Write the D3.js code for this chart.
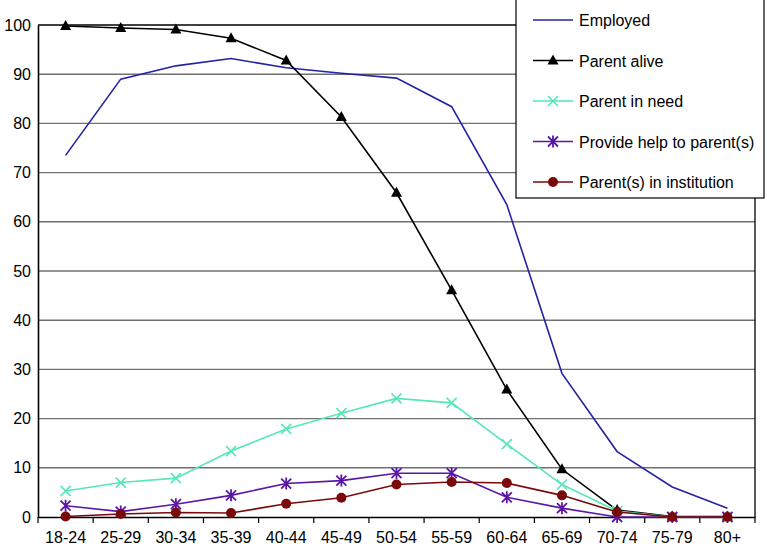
<!DOCTYPE html>
<html><head><meta charset="utf-8">
<script src="https://cdn.jsdelivr.net/npm/d3@7"></script>
<style>body{margin:0;background:#fff}svg{display:block}text{font-family:"Liberation Sans",Arial,sans-serif}</style>
</head><body>
<svg id="c" width="767" height="549"></svg>
<script>
const categories = ["18-24","25-29","30-34","35-39","40-44","45-49","50-54","55-59","60-64","65-69","70-74","75-79","80+"];
const employed = [73.5,89.0,91.7,93.2,91.3,90.2,89.2,83.4,63.5,29.2,13.3,6.1,1.8];
const parentAlive = [99.8,99.4,99.1,97.3,92.8,81.3,65.9,46.1,25.9,9.7,1.4,0.1,0.1];
const parentInNeed = [5.3,7.0,7.9,13.4,17.9,21.1,24.1,23.2,14.8,6.6,1.2,0,0];
const provideHelp = [2.3,1.1,2.6,4.4,6.8,7.4,8.9,8.9,4.0,1.8,0,0,0];
const inInstitution = [0.1,0.6,0.9,0.8,2.7,3.9,6.6,7.1,6.9,4.4,1.0,0,0];
const yTicks = [0,10,20,30,40,50,60,70,80,90,100];

const series = [
  {name:"Employed", values:employed, color:"#2323a3", marker:"none"},
  {name:"Parent alive", values:parentAlive, color:"#000000", marker:"triangle"},
  {name:"Parent in need", values:parentInNeed, color:"#55e8b4", marker:"x"},
  {name:"Provide help to parent(s)", values:provideHelp, color:"#5b16a6", marker:"star"},
  {name:"Parent(s) in institution", values:inInstitution, color:"#7a0a0a", marker:"circle"}
];

const FS = 16;
const svg = d3.select("#c");
const x = d3.scaleBand().domain(categories).range([38,755]).padding(0);
const y = d3.scaleLinear().domain([0,100]).range([517,25]);
const cx = d => x(d) + x.bandwidth()/2;

// gridlines
svg.append("g").selectAll("line").data(yTicks.filter(t=>t>0)).join("line")
  .attr("x1",38).attr("x2",755).attr("y1",d=>y(d)).attr("y2",d=>y(d))
  .attr("stroke",d=>d===100?"#000":"#707070").attr("stroke-width",1.4);
// right border
svg.append("line").attr("x1",755).attr("x2",755).attr("y1",25).attr("y2",517).attr("stroke","#000").attr("stroke-width",1.3);

// y axis
const ya = svg.append("g").attr("transform","translate(38,0)")
  .call(d3.axisLeft(y).tickValues(yTicks).tickSize(0).tickPadding(7));
ya.select(".domain").attr("stroke","#000").attr("stroke-width",1.6);
ya.selectAll("text").attr("font-size",FS).attr("fill","#000").attr("font-family","'Liberation Sans',Arial,sans-serif");

// x axis
const xa = svg.append("g").attr("transform","translate(0,517)")
  .call(d3.axisBottom(x).tickSize(0).tickPadding(15));
xa.select(".domain").attr("stroke","#000").attr("stroke-width",1.6);
xa.selectAll("text").attr("font-size",FS).attr("fill","#000").attr("font-family","'Liberation Sans',Arial,sans-serif");
svg.append("g").selectAll("line").data(categories.concat(["__end"])).join("line")
  .attr("x1",(d,i)=>38+i*x.bandwidth()).attr("x2",(d,i)=>38+i*x.bandwidth())
  .attr("y1",517).attr("y2",523).attr("stroke","#000").attr("stroke-width",1.2);

function drawMarker(g, type, px, py, color){
  if(type==="triangle"){
    g.append("path").attr("d",`M${px},${py-6}L${px+5.5},${py+4}L${px-5.5},${py+4}Z`).attr("fill",color);
  } else if(type==="x"){
    g.append("path").attr("d",`M${px-5},${py-5}L${px+5},${py+5}M${px-5},${py+5}L${px+5},${py-5}`)
      .attr("stroke",color).attr("stroke-width",1.6).attr("fill","none");
  } else if(type==="star"){
    g.append("path").attr("d",`M${px-5},${py-5}L${px+5},${py+5}M${px-5},${py+5}L${px+5},${py-5}M${px},${py-6}L${px},${py+6}`)
      .attr("stroke",color).attr("stroke-width",1.8).attr("fill","none");
  } else if(type==="circle"){
    g.append("circle").attr("cx",px).attr("cy",py).attr("r",5).attr("fill",color);
  }
}

const line = d3.line().x((d,i)=>cx(categories[i])).y(d=>y(d));
series.forEach(s=>{
  const g = svg.append("g");
  g.append("path").datum(s.values).attr("d",line).attr("fill","none")
    .attr("stroke",s.color).attr("stroke-width",1.6);
  if(s.marker!=="none") s.values.forEach((v,i)=>drawMarker(g,s.marker,cx(categories[i]),y(v),s.color));
});

// legend
const lg = svg.append("g");
lg.append("rect").attr("x",516).attr("y",-1).attr("width",248).attr("height",199)
  .attr("fill","#fff").attr("stroke","#000").attr("stroke-width",1.2);
series.forEach((s,i)=>{
  const ly = 20 + i*40.5;
  lg.append("line").attr("x1",533).attr("x2",573).attr("y1",ly).attr("y2",ly).attr("stroke",s.color).attr("stroke-width",1.6);
  drawMarker(lg,s.marker,553,ly,s.color);
  lg.append("text").attr("x",579).attr("y",ly+6).attr("font-size",FS).attr("fill","#000").text(s.name);
});
</script>
</body></html>
